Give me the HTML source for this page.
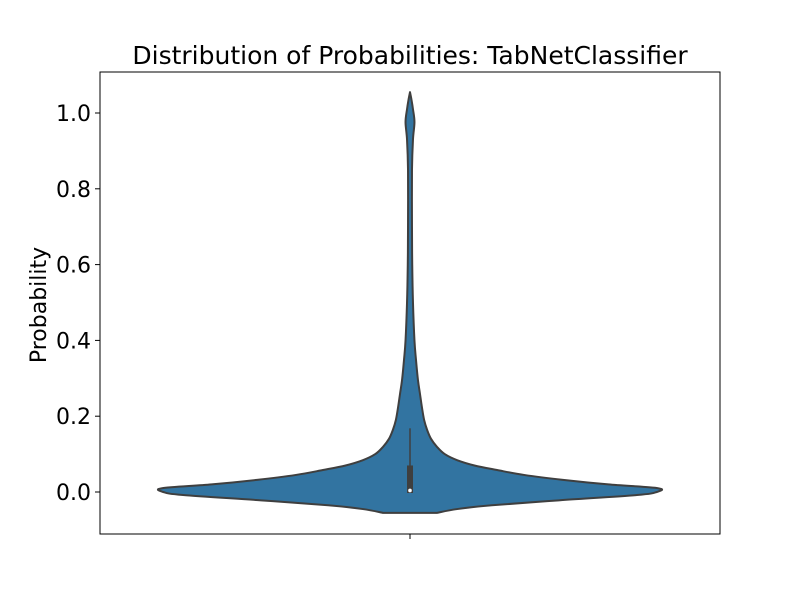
<!DOCTYPE html>
<html><head><meta charset="utf-8"><style>body{margin:0;background:#fff}svg{display:block;font-family:"DejaVu Sans","Liberation Sans",sans-serif}</style></head>
<body>
<svg id="chart" width="800" height="600"></svg>
<script>
const yTicks=[0.0,0.2,0.4,0.6,0.8,1.0];
const yTickLabels=["0.0","0.2","0.4","0.6","0.8","1.0"];
// violin profile: values and relative density (1 = max half width)
const kdeValues=[-0.055,-0.045,-0.035,-0.022,-0.008,0.0,0.01,0.02,0.032,0.045,0.058,0.07,0.084,0.10,0.119,0.14,0.164,0.19,0.224,0.26,0.296,0.35,0.40,0.50,0.60,0.70,0.85,0.93,0.976,1.01,1.035,1.055];
const kdeDensity=[0.109,0.19,0.33,0.60,0.915,0.995,1.0,0.8,0.617,0.46,0.351,0.26,0.19,0.14,0.109,0.085,0.069,0.057,0.048,0.04,0.032,0.024,0.018,0.012,0.009,0.008,0.008,0.012,0.018,0.012,0.006,0.0];
const boxQ1=[0.0],boxQ3=[0.07],whiskerHi=[0.168],median=[0.004];
const NS="http://www.w3.org/2000/svg";
const svg=document.getElementById('chart');
const L=100,R=720,T=72,B=534,cx=410,maxHW=248;
const y=v=>492-v*379;
function mk(t,a,p){const e=document.createElementNS(NS,t);for(const k in a)e.setAttribute(k,a[k]);(p||svg).appendChild(e);return e;}
function smooth(P){let d='M'+P[0][0]+','+P[0][1];for(let i=0;i<P.length-1;i++){const p0=P[Math.max(i-1,0)],p1=P[i],p2=P[i+1],p3=P[Math.min(i+2,P.length-1)];const t=0.5/3;d+=' C'+(p1[0]+(p2[0]-p0[0])*t)+','+(p1[1]+(p2[1]-p0[1])*t)+' '+(p2[0]-(p3[0]-p1[0])*t)+','+(p2[1]-(p3[1]-p1[1])*t)+' '+p2[0]+','+p2[1];}return d;}
let left=[],right=[];
for(let i=kdeValues.length-1;i>=0;i--)left.push([cx-kdeDensity[i]*maxHW,y(kdeValues[i])]);
for(let i=0;i<kdeValues.length;i++)right.push([cx+kdeDensity[i]*maxHW,y(kdeValues[i])]);
const d=smooth(left)+' L'+right[0][0]+','+right[0][1]+' '+smooth(right).slice(1).replace(/^[^C]*/,'')+' Z';
const vio=mk('path',{d:d,fill:'#3274a1',stroke:'#3f3f3f','stroke-width':2,'stroke-linejoin':'round'});


const wl=mk('line',{x1:cx,x2:cx,y1:y(boxQ3[0]),y2:y(whiskerHi[0]),stroke:'#3f3f3f','stroke-width':1.5});


const bx=mk('rect',{x:cx-3,y:y(boxQ3[0]),width:6,height:y(boxQ1[0])-y(boxQ3[0])+1,fill:'#3f3f3f'});


const md=mk('circle',{cx:cx,cy:y(median[0]),r:1.8,fill:'#fff'});


const fr=mk('rect',{x:L,y:T,width:R-L,height:B-T,fill:'none',stroke:'#000','stroke-width':1});


yTicks.forEach((v,i)=>{
 const t=mk('line',{x1:L-5,x2:L,y1:y(v),y2:y(v),stroke:'#000','stroke-width':1});
 
 
 const tx=mk('text',{x:L-9,y:y(v)+8,'text-anchor':'end','font-size':22,fill:'#000'});
 tx.textContent=yTickLabels[i];
 
 
});
const xt=mk('line',{x1:cx,x2:cx,y1:B,y2:B+5,stroke:'#000','stroke-width':1});


const yl=mk('text',{x:0,y:0,transform:'translate(46,305) rotate(-90)','text-anchor':'middle','font-size':22,fill:'#000'});
yl.textContent='Probability';


const ti=mk('text',{x:410,y:64,'text-anchor':'middle','font-size':25,fill:'#000'});
ti.textContent='Distribution of Probabilities: TabNetClassifier';


</script>
</body></html>
